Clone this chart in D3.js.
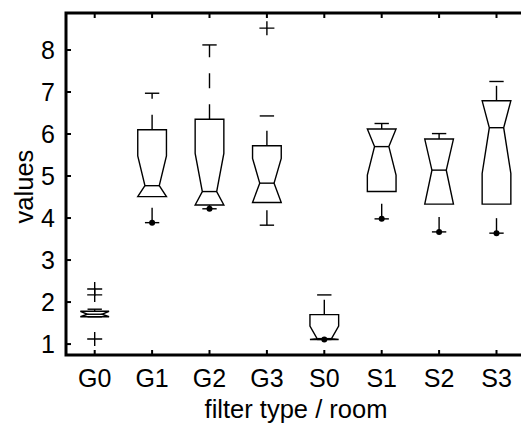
<!DOCTYPE html>
<html>
<head>
<meta charset="utf-8">
<script src="https://cdn.jsdelivr.net/npm/d3@7"></script>
<style>
  body { margin: 0; background: #fff; }
  svg { display: block; }
  text { font-family: "Liberation Sans", Arial, sans-serif; fill: #000; }
</style>
</head>
<body>
<div id="chart"></div>
<script>
// boxplot values per group
const groups = ["G0", "G1", "G2", "G3", "S0", "S1", "S2", "S3"];
const whiskerLo = [1.65, 3.89, 4.22, 3.83, 1.11, 3.98, 3.67, 3.64];
const q1 = [1.65, 4.51, 4.31, 4.37, 1.11, 4.63, 4.33, 4.33];
const median = [1.71, 4.77, 4.63, 4.83, 1.13, 5.70, 5.14, 6.15];
const q3 = [1.78, 6.10, 6.35, 5.72, 1.70, 6.12, 5.88, 6.79];
const whiskerHi = [1.83, 6.97, 8.12, 6.43, 2.17, 6.25, 6.01, 7.25];
const notchHalf = [0.35, 0.71, 0.91, 0.59, 0.30, 0.68, 0.90, 1.09];
const outliers = [[1.12, 2.17, 2.31], [], [], [8.52], [], [], [], []];
const dotValues = [null, 3.89, 4.22, null, 1.11, 3.98, 3.67, 3.64];
const yTicks = [1, 2, 3, 4, 5, 6, 7, 8];

const width = 521, height = 424;
const margin = {top: 13, left: 66, bottom: 69};

const svg = d3.select("#chart")
    .append("svg")
    .attr("width", width)
    .attr("height", height);

// x runs past the right edge of the picture, like the source
const x = d3.scaleLinear()
    .domain([0.5, 8.5])
    .range([margin.left, margin.left + 8 * 57.4]);
const y = d3.scaleLinear()
    .domain([0.74, 8.88])
    .range([height - margin.bottom, margin.top]);

const unit = x(1) - x(0);
const hw = unit * 0.25;   // box half width
const nw = hw / 2;        // notch / cap half width

const rows = groups.map((g, i) => ({
    name: g, pos: i + 1,
    lo: whiskerLo[i], q1: q1[i], med: median[i], q3: q3[i], hi: whiskerHi[i],
    notch: notchHalf[i], out: outliers[i], dot: dotValues[i]
}));

const plot = svg.append("g").attr("class", "boxes")
    .attr("fill", "none")
    .attr("stroke", "#000")
    .attr("stroke-width", 1.4);

rows.forEach(d => {
    const cx = x(d.pos);
    const nlo = Math.max(d.q1, d.med - d.notch);
    const nhi = Math.min(d.q3, d.med + d.notch);
    const pts = [
        [cx - hw, y(d.q1)], [cx - hw, y(nlo)], [cx - nw, y(d.med)], [cx - hw, y(nhi)], [cx - hw, y(d.q3)],
        [cx + hw, y(d.q3)], [cx + hw, y(nhi)], [cx + nw, y(d.med)], [cx + hw, y(nlo)], [cx + hw, y(d.q1)]
    ];
    const g = plot.append("g");
    g.append("path").attr("d", d3.line()(pts) + "Z");
    g.append("line")
        .attr("x1", cx - nw).attr("x2", cx + nw)
        .attr("y1", y(d.med)).attr("y2", y(d.med));

    // dashed whiskers, drawn from the lower value up
    if (d.lo < d.q1) {
        g.append("line")
            .attr("x1", cx).attr("x2", cx)
            .attr("y1", y(d.lo)).attr("y2", y(d.q1))
            .attr("stroke-dasharray", "15,16");
    }
    if (d.hi > d.q3) {
        g.append("line")
            .attr("x1", cx).attr("x2", cx)
            .attr("y1", y(d.q3)).attr("y2", y(d.hi))
            .attr("stroke-dasharray", "15,16");
    }
    [d.lo, d.hi].forEach(v => {
        g.append("line")
            .attr("x1", cx - nw).attr("x2", cx + nw)
            .attr("y1", y(v)).attr("y2", y(v));
    });

    d.out.forEach(v => {
        g.append("path")
            .attr("d", `M${cx - 7.5},${y(v)}H${cx + 7.5}M${cx},${y(v) - 7}V${y(v) + 7}`);
    });

    if (d.dot != null) {
        g.append("circle")
            .attr("cx", cx).attr("cy", y(d.dot))
            .attr("r", 3)
            .attr("fill", "#000")
            .attr("stroke", "none");
    }
});

// axes: thick frame, inward ticks
const frame = svg.append("g").attr("class", "frame")
    .attr("stroke", "#000");

frame.append("path")
    .attr("d", `M${width + 5},${margin.top}H${margin.left}V${y.range()[0]}H${width + 5}`)
    .attr("fill", "none")
    .attr("stroke-width", 3);

frame.selectAll(".ytick")
    .data(yTicks).enter()
    .append("line")
    .attr("x1", margin.left).attr("x2", margin.left + 5)
    .attr("y1", d => y(d)).attr("y2", d => y(d))
    .attr("stroke-width", 2);

frame.selectAll(".xtick")
    .data(rows).enter()
    .append("path")
    .attr("d", d => `M${x(d.pos)},${y.range()[0]}v-5M${x(d.pos)},${margin.top}v5`)
    .attr("stroke-width", 2);

svg.append("g").selectAll("text")
    .data(yTicks).enter()
    .append("text")
    .attr("x", margin.left - 11)
    .attr("y", d => y(d))
    .attr("dy", "0.36em")
    .attr("text-anchor", "end")
    .style("font-size", "25px")
    .text(d => d);

svg.append("g").selectAll("text")
    .data(rows).enter()
    .append("text")
    .attr("x", d => x(d.pos))
    .attr("y", 387)
    .attr("text-anchor", "middle")
    .style("font-size", "25px")
    .text(d => d.name);

svg.append("text")
    .attr("x", 296)
    .attr("y", 418)
    .attr("text-anchor", "middle")
    .style("font-size", "25.5px")
    .text("filter type / room");

svg.append("text")
    .attr("transform", `translate(33,${y(4.75)}) rotate(-90)`)
    .attr("text-anchor", "middle")
    .style("font-size", "25.5px")
    .text("values");
</script>
</body>
</html>
